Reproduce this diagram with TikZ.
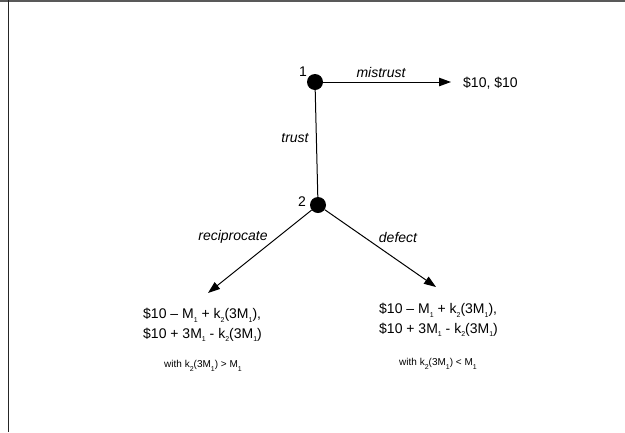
\documentclass[tikz,border=0pt]{standalone}
\usepackage{fontspec}
\setmainfont{Liberation Sans}
\usetikzlibrary{arrows.meta}
% small lowered index, as in M_1 and k_2
\newcommand{\sbs}[1]{\raisebox{-3.6pt}{\fontsize{7}{7}\selectfont #1}}
\begin{document}
\begin{tikzpicture}[x=1pt,y=-1pt,
  decision/.style={circle,fill=black,inner sep=0pt,minimum size=16pt},
  branch/.style={line width=1pt,-{Triangle[length=12pt,width=8.5pt]}},
  stem/.style={line width=1pt},
  movelabel/.style={font=\fontsize{14}{16}\selectfont\itshape,inner sep=0pt},
  playerlabel/.style={font=\fontsize{14}{16}\selectfont,inner sep=0pt},
  payoff/.style={font=\fontsize{14}{19.5}\selectfont,align=left,inner sep=0pt},
  condition/.style={font=\fontsize{10}{12}\selectfont,inner sep=0pt}]
\useasboundingbox (0,0) rectangle (625,432);
\fill[white] (0,0) rectangle (625,432);
% frame edges
\draw[line width=1.2pt,black!65] (0,1) -- (625,1);
\draw[line width=1.5pt,black!85] (8.5,0) -- (8.5,432);

% decision nodes
\node[decision] (n1) at (315,82) {};
\node[decision] (n2) at (318,205) {};
\node[playerlabel] (p1) at (303,72) {1};
\node[playerlabel] (p2) at (302,202) {2};

% arrow ends
\coordinate (endM) at (451,82);
\coordinate (endR) at (208,293);
\coordinate (endD) at (436,287);

% moves
\draw[branch] (n1) -- (endM);
\draw[stem] (n1) -- (n2);
\draw[branch] (n2) -- (endR);
\draw[branch] (n2) -- (endD);

\node[movelabel] (lm) at (381,72) {mistrust};
\node[movelabel] (lt) at (295,138) {trust};
\node[movelabel] (lr) at (233,237) {reciprocate};
\node[movelabel] (ld) at (398,237) {defect};

% payoffs
\node[payoff,anchor=west] (pm) at (463,83) {\$10, \$10};
\node[payoff,anchor=west] (pr) at (143,325)
  {\$10 – M\sbs{1} + k\sbs{2}(3M\sbs{1}),\\\$10 + 3M\sbs{1} - k\sbs{2}(3M\sbs{1})};
\node[payoff,anchor=west] (pd) at (379,320)
  {\$10 – M\sbs{1} + k\sbs{2}(3M\sbs{1}),\\\$10 + 3M\sbs{1} - k\sbs{2}(3M\sbs{1})};
\node[condition] (cr) at (203,366) {with k\sbs{2}(3M\sbs{1}) > M\sbs{1}};
\node[condition] (cd) at (438,364) {with k\sbs{2}(3M\sbs{1}) < M\sbs{1}};
\end{tikzpicture}
\end{document}
